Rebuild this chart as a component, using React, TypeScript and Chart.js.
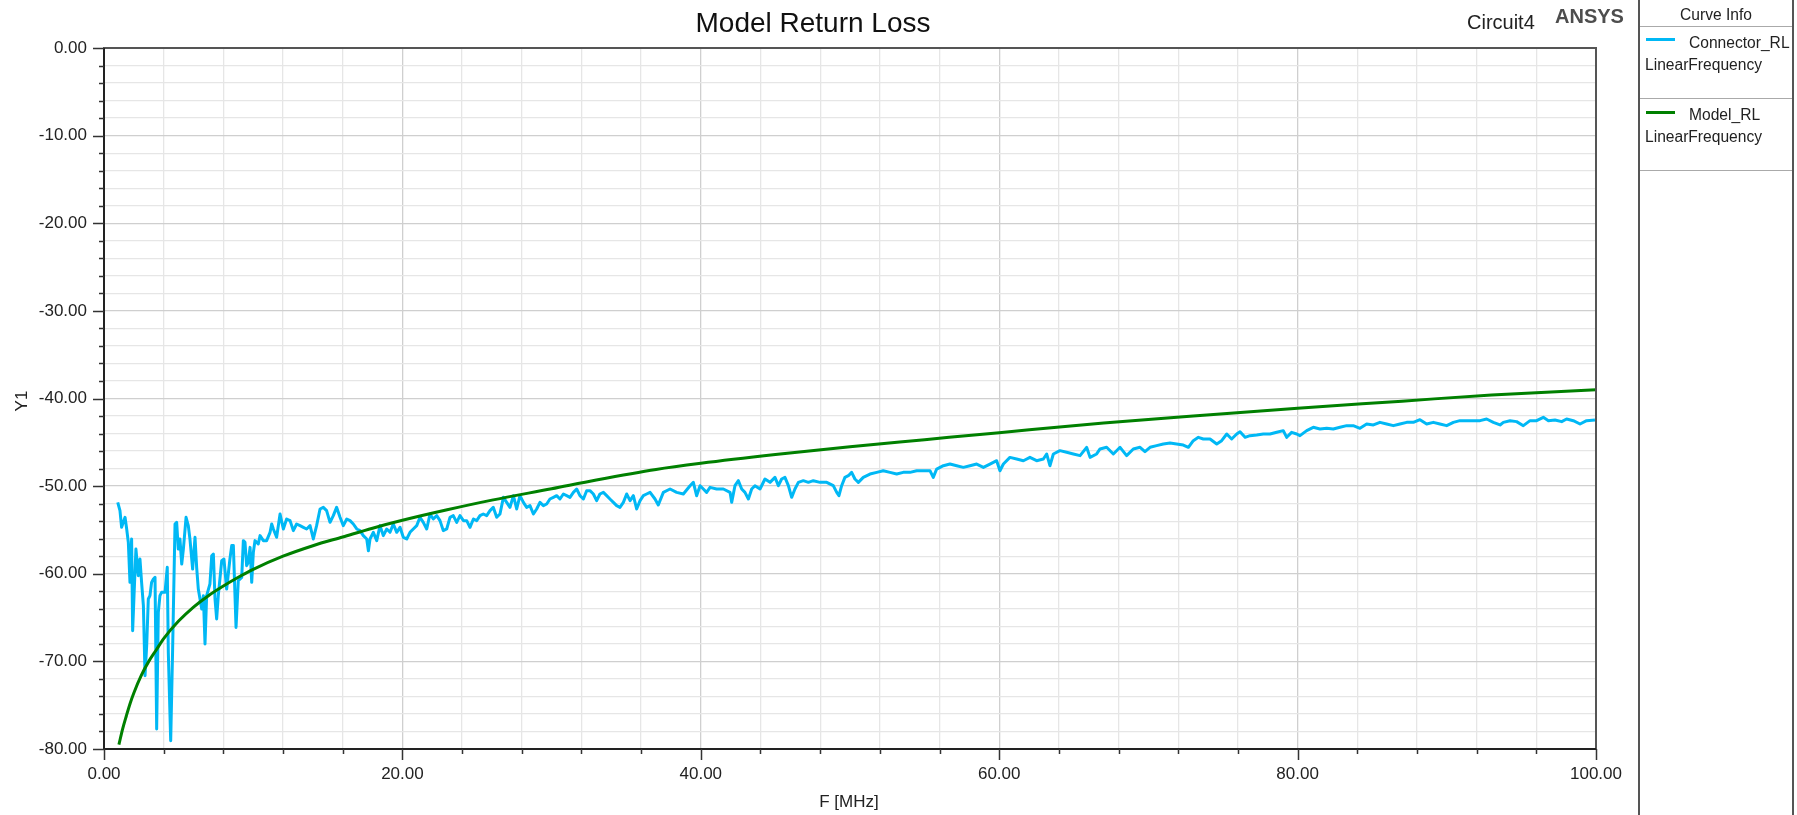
import React, { useEffect, useRef } from "react";
import { Chart, registerables } from "chart.js";

Chart.register(...registerables);

// Connector_RL (measured) — frequency in MHz, return loss in dB
const connF = [
  0.92, 1.07, 1.18, 1.41, 1.52, 1.63, 1.74, 1.85, 1.92, 2.03, 2.14, 2.30, 2.41, 2.52, 2.64, 2.75, 2.86, 2.97, 3.08, 3.19,
  3.31, 3.42, 3.53, 3.64, 3.75, 3.86, 4.09, 4.24, 4.31, 4.47, 4.60, 4.76, 4.87, 4.98, 5.09, 5.21, 5.32, 5.50, 5.65, 5.76,
  5.94, 6.10, 6.21, 6.32, 6.55, 6.66, 6.77, 6.88, 7.10, 7.22, 7.33, 7.44, 7.55, 7.66, 7.89, 8.04, 8.22, 8.44, 8.56, 8.67,
  8.85, 9.00, 9.23, 9.34, 9.45, 9.56, 9.67, 9.79, 9.90, 10.01, 10.12, 10.34, 10.46, 10.68, 10.90, 11.13, 11.24, 11.35, 11.57, 11.80,
  12.02, 12.24, 12.47, 12.69, 12.91, 13.14, 13.36, 13.58, 13.81, 14.03, 14.25, 14.48, 14.70, 14.92, 15.15, 15.37, 15.59, 15.82, 16.04, 16.27,
  16.49, 16.71, 16.94, 17.16, 17.38, 17.61, 17.72, 17.83, 18.05, 18.28, 18.50, 18.72, 18.95, 19.17, 19.39, 19.62, 19.84, 20.06, 20.29, 20.51,
  20.73, 20.96, 21.18, 21.40, 21.63, 21.85, 22.07, 22.30, 22.52, 22.74, 22.97, 23.19, 23.41, 23.64, 23.86, 24.09, 24.31, 24.53, 24.76, 24.98,
  25.20, 25.42, 25.65, 25.87, 26.09, 26.32, 26.54, 26.77, 26.99, 27.21, 27.44, 27.66, 27.88, 28.11, 28.33, 28.55, 28.78, 29.00, 29.22, 29.45,
  29.67, 29.89, 30.12, 30.34, 30.56, 30.79, 31.01, 31.23, 31.46, 31.68, 31.90, 32.13, 32.35, 32.57, 32.80, 33.02, 33.24, 33.47, 33.69, 33.91,
  34.14, 34.36, 34.58, 34.81, 35.03, 35.26, 35.48, 35.70, 35.93, 36.15, 36.37, 36.60, 36.93, 37.15, 37.49, 37.94, 38.38, 38.83, 39.28, 39.50,
  39.72, 39.95, 40.17, 40.39, 40.62, 41.06, 41.51, 41.96, 42.07, 42.29, 42.52, 42.74, 42.96, 43.19, 43.41, 43.63, 43.97, 44.30, 44.64, 44.97,
  45.20, 45.42, 45.64, 45.87, 46.09, 46.31, 46.54, 46.87, 47.21, 47.54, 47.99, 48.44, 48.88, 49.11, 49.26, 49.44, 49.66, 49.89, 50.11, 50.33,
  50.56, 50.89, 51.34, 51.79, 52.23, 52.68, 53.13, 53.57, 54.02, 54.47, 54.92, 55.36, 55.58, 55.81, 56.26, 56.70, 57.15, 57.60, 58.04, 58.49,
  58.94, 59.38, 59.83, 60.05, 60.28, 60.72, 61.17, 61.62, 62.06, 62.51, 62.96, 63.18, 63.40, 63.63, 64.07, 64.52, 64.97, 65.42, 65.86, 66.09,
  66.53, 66.76, 67.20, 67.65, 68.10, 68.54, 68.99, 69.44, 69.77, 70.11, 70.55, 71.00, 71.45, 71.89, 72.34, 72.68, 73.01, 73.35, 73.68, 74.13,
  74.58, 74.91, 75.25, 75.58, 75.92, 76.14, 76.48, 76.81, 77.26, 77.70, 78.15, 78.60, 79.04, 79.27, 79.60, 79.94, 80.16, 80.61, 81.05, 81.50,
  81.95, 82.39, 82.84, 83.29, 83.73, 84.18, 84.63, 85.08, 85.52, 85.97, 86.42, 86.86, 87.31, 87.76, 88.20, 88.65, 89.10, 89.54, 89.99, 90.44,
  90.88, 91.33, 91.78, 92.23, 92.67, 93.12, 93.57, 93.79, 94.24, 94.68, 95.13, 95.58, 96.02, 96.47, 96.81, 97.25, 97.70, 98.03, 98.48, 98.93,
  99.37, 99.93,
];
const connDb = [
  -51.85, -52.80, -54.70, -53.56, -54.89, -56.41, -60.98, -56.03, -66.50, -61.74, -57.18, -60.22, -58.32, -60.98, -63.64, -71.63, -68.21, -62.88, -62.50, -60.98,
  -60.60, -60.41, -77.72, -64.40, -62.50, -62.12, -62.12, -59.27, -68.97, -79.05, -68.59, -54.32, -54.13, -57.18, -56.03, -58.89, -57.18, -53.56, -54.51, -56.03,
  -59.46, -55.84, -59.27, -61.74, -64.02, -62.50, -68.02, -62.50, -61.17, -57.94, -57.75, -62.88, -65.16, -62.50, -58.51, -58.32, -61.74, -58.32, -56.79, -56.79,
  -66.12, -60.79, -60.41, -56.22, -56.41, -59.08, -58.70, -56.99, -60.98, -57.56, -56.22, -56.60, -55.65, -56.22, -56.22, -55.27, -54.32, -54.89, -55.84, -53.18,
  -54.89, -53.75, -53.94, -55.08, -54.32, -54.51, -54.70, -54.89, -54.51, -56.03, -54.51, -52.61, -52.42, -52.80, -54.13, -53.37, -52.42, -53.56, -54.51, -53.75,
  -53.94, -54.32, -54.89, -55.08, -55.65, -56.03, -57.37, -56.03, -55.27, -56.22, -54.51, -55.65, -54.89, -55.27, -54.32, -55.27, -54.70, -55.84, -56.03, -55.27,
  -54.89, -54.51, -53.56, -54.13, -54.89, -53.18, -53.75, -53.37, -53.94, -55.08, -54.89, -53.56, -53.37, -54.13, -53.37, -53.94, -53.94, -54.70, -53.75, -53.94,
  -53.37, -53.18, -53.37, -52.80, -52.42, -53.56, -53.18, -51.28, -51.85, -52.42, -51.09, -52.61, -51.09, -51.85, -52.42, -52.23, -53.18, -52.61, -51.85, -52.23,
  -52.04, -51.47, -51.28, -51.09, -51.47, -50.90, -51.09, -51.28, -50.71, -50.33, -51.09, -51.47, -50.52, -50.52, -50.90, -51.66, -50.90, -50.71, -51.09, -51.47,
  -51.85, -52.23, -52.42, -51.85, -50.90, -51.66, -51.09, -52.61, -51.66, -51.09, -50.90, -50.71, -51.47, -52.15, -50.71, -50.33, -50.71, -50.90, -49.95, -49.57,
  -51.09, -49.95, -50.33, -50.71, -50.14, -50.33, -50.33, -50.71, -51.85, -49.95, -49.38, -50.33, -50.71, -51.47, -50.33, -49.95, -50.33, -49.19, -49.57, -49.00,
  -49.95, -49.19, -49.00, -49.95, -51.28, -50.33, -49.57, -49.38, -49.57, -49.38, -49.57, -49.57, -49.95, -50.71, -51.09, -49.95, -49.00, -48.81, -48.43, -49.19,
  -49.57, -49.00, -48.62, -48.43, -48.24, -48.43, -48.62, -48.43, -48.43, -48.24, -48.24, -48.24, -49.00, -48.05, -47.67, -47.48, -47.67, -47.86, -47.67, -47.48,
  -47.86, -47.48, -47.10, -48.24, -47.48, -46.72, -46.90, -47.10, -46.72, -47.10, -46.90, -46.33, -47.67, -46.33, -45.95, -46.14, -46.33, -46.52, -45.57, -46.72,
  -46.33, -45.76, -45.57, -46.33, -45.57, -46.52, -45.76, -45.57, -46.07, -45.57, -45.38, -45.19, -45.08, -45.19, -45.31, -45.57, -44.81, -44.43, -44.62, -44.62,
  -45.19, -44.81, -44.05, -44.62, -44.05, -43.79, -44.43, -44.24, -44.17, -44.05, -44.05, -43.86, -43.67, -44.43, -43.86, -44.05, -44.24, -43.67, -43.29, -43.48,
  -43.40, -43.48, -43.29, -43.10, -43.10, -43.40, -42.91, -43.02, -42.72, -42.91, -43.10, -42.91, -42.72, -42.72, -42.42, -42.91, -42.72, -42.91, -43.10, -42.72,
  -42.53, -42.53, -42.53, -42.53, -42.34, -42.72, -43.02, -42.72, -42.53, -42.64, -43.10, -42.53, -42.53, -42.15, -42.53, -42.45, -42.64, -42.34, -42.53, -42.91,
  -42.53, -42.45,
];

// Model_RL — frequency in MHz, return loss in dB
const modelF = [1, 1.25, 1.5, 1.75, 2, 2.5, 3, 3.5, 4, 5, 6, 7, 8, 9, 10, 12, 14, 16, 18, 20, 23, 26, 30, 33, 37, 40, 45, 50, 55, 60, 67, 73, 80, 87, 93, 100];
const modelDb = [-79.5, -77.7, -76.2, -74.8, -73.6, -71.6, -70.0, -68.7, -67.4, -65.4, -63.8, -62.5, -61.4, -60.4, -59.5, -58.0, -56.8, -55.8, -54.8, -53.9, -52.7, -51.6, -50.3, -49.3, -48.1, -47.4, -46.4, -45.5, -44.7, -43.9, -42.8, -42.0, -41.1, -40.3, -39.6, -39.0];

const xTickValues = [0, 20, 40, 60, 80, 100];
const yTickValues = [0, -10, -20, -30, -40, -50, -60, -70, -80];

const FONT = '"Liberation Sans", Arial, sans-serif';
const CYAN = "#00b8f5";
const GREEN = "#008000";

const decorPlugin = {
  id: "decor",
  afterDraw(chart: any) {
    const { ctx, chartArea } = chart;
    const xs = chart.scales.x;
    const ys = chart.scales.y;
    ctx.save();
    // frame
    ctx.strokeStyle = "#555";
    ctx.lineWidth = 2;
    ctx.strokeRect(chartArea.left, chartArea.top, chartArea.right - chartArea.left, chartArea.bottom - chartArea.top);
    ctx.strokeStyle = "#222";
    ctx.beginPath();
    ctx.moveTo(chartArea.left, chartArea.top);
    ctx.lineTo(chartArea.left, chartArea.bottom);
    ctx.lineTo(chartArea.right, chartArea.bottom);
    ctx.stroke();
    // tick marks
    ctx.lineWidth = 1.5;
    ctx.strokeStyle = "#333";
    ctx.beginPath();
    for (let v = -80; v <= 0; v += 2) {
      const y = Math.round(ys.getPixelForValue(v)) + 0.5;
      const len = v % 10 === 0 ? 11 : 5;
      ctx.moveTo(chartArea.left - len, y);
      ctx.lineTo(chartArea.left, y);
    }
    for (let v = 0; v <= 100; v += 4) {
      const x = Math.round(xs.getPixelForValue(v)) + 0.5;
      const len = v % 20 === 0 ? 11 : 5;
      ctx.moveTo(x, chartArea.bottom);
      ctx.lineTo(x, chartArea.bottom + len);
    }
    ctx.stroke();
    // texts
    ctx.fillStyle = "#111";
    ctx.textBaseline = "middle";
    ctx.textAlign = "center";
    ctx.font = `28px ${FONT}`;
    ctx.fillText("Model Return Loss", 813, 24);
    ctx.textAlign = "left";
    ctx.font = `20px ${FONT}`;
    ctx.fillStyle = "#222";
    ctx.fillText("Circuit4", 1467, 23.5);
    ctx.font = `bold 20px ${FONT}`;
    ctx.fillStyle = "#4d4d4d";
    ctx.fillText("ANSYS", 1555, 17.5);
    ctx.fillStyle = "#222";
    ctx.font = `17px ${FONT}`;
    ctx.textAlign = "center";
    ctx.fillText("F [MHz]", 849, 802);
    ctx.translate(22, 401);
    ctx.rotate(-Math.PI / 2);
    ctx.fillText("Y1", 0, 0);
    ctx.restore();
  },
};

export default function App() {
  const canvasRef = useRef<HTMLCanvasElement | null>(null);

  useEffect(() => {
    if (!canvasRef.current) return;
    const chart = new Chart(canvasRef.current, {
      type: "line",
      data: {
        datasets: [
          {
            label: "Connector_RL",
            data: connF.map((f, i) => ({ x: f, y: connDb[i] })),
            borderColor: CYAN,
            borderWidth: 3,
            pointRadius: 0,
            tension: 0,
            borderJoinStyle: "round",
            order: 1,
          },
          {
            label: "Model_RL",
            data: modelF.map((f, i) => ({ x: f, y: modelDb[i] })),
            borderColor: GREEN,
            borderWidth: 3,
            pointRadius: 0,
            cubicInterpolationMode: "monotone",
            order: 0,
          },
        ],
      },
      options: {
        responsive: false,
        animation: false,
        events: [],
        layout: { padding: { left: 0, right: 43, top: 48, bottom: 0 } },
        plugins: { legend: { display: false }, tooltip: { enabled: false }, title: { display: false } },
        scales: {
          x: {
            type: "linear",
            min: 0,
            max: 100,
            afterFit: (s: any) => {
              s.height = 66;
            },
            afterBuildTicks: (s: any) => {
              const t = [];
              for (let v = 0; v <= 100; v += 4) t.push({ value: v });
              s.ticks = t;
            },
            ticks: {
              autoSkip: false,
              maxRotation: 0,
              padding: 15,
              color: "#222",
              font: { family: FONT, size: 17 },
              callback: (v: any) => (xTickValues.includes(Number(v)) ? Number(v).toFixed(2) : ""),
            },
            grid: {
              drawTicks: false,
              color: (c: any) => (c.tick && c.tick.value % 20 === 0 ? "#cfcfcf" : "#e6e6e6"),
              lineWidth: 1.3,
            },
            border: { display: false },
          },
          y: {
            type: "linear",
            min: -80,
            max: 0,
            afterFit: (s: any) => {
              s.width = 104;
            },
            afterBuildTicks: (s: any) => {
              const t = [];
              for (let v = -80; v <= 0; v += 2) t.push({ value: v });
              s.ticks = t;
            },
            ticks: {
              autoSkip: false,
              padding: 17,
              color: "#222",
              font: { family: FONT, size: 17 },
              callback: (v: any) => (yTickValues.includes(Number(v)) ? Number(v).toFixed(2) : ""),
            },
            grid: {
              drawTicks: false,
              color: (c: any) => (c.tick && c.tick.value % 10 === 0 ? "#cfcfcf" : "#e6e6e6"),
              lineWidth: 1.3,
            },
            border: { display: false },
          },
        },
      },
      plugins: [decorPlugin],
    });
    return () => chart.destroy();
  }, []);

  const txt: React.CSSProperties = {
    position: "absolute",
    fontFamily: FONT,
    fontSize: 15.6,
    color: "#222",
    whiteSpace: "nowrap",
    lineHeight: "18px",
  };

  return (
    <div style={{ position: "absolute", left: 0, top: 0, width: 1797, height: 815, background: "#fff", overflow: "hidden" }}>
      <canvas ref={canvasRef} width={1639} height={815} style={{ position: "absolute", left: 0, top: 0 }} />
      <div
        style={{
          position: "absolute",
          left: 1638,
          top: 0,
          width: 156,
          height: 815,
          borderLeft: "2px solid #555",
          borderRight: "2px solid #555",
          boxSizing: "border-box",
        }}
      >
        <div style={{ position: "absolute", left: 0, top: 26, width: "100%", height: 0, borderTop: "1px solid #aaa" }} />
        <div style={{ position: "absolute", left: 0, top: 98, width: "100%", height: 0, borderTop: "1px solid #aaa" }} />
        <div style={{ position: "absolute", left: 0, top: 170, width: "100%", height: 0, borderTop: "1px solid #aaa" }} />
        <div style={{ ...txt, left: 0, width: "100%", textAlign: "center", top: 6 }}>Curve Info</div>
        <div style={{ position: "absolute", left: 6, top: 38, width: 29, height: 3, background: CYAN }} />
        <div style={{ ...txt, left: 49, top: 34 }}>Connector_RL</div>
        <div style={{ ...txt, left: 5, top: 56 }}>LinearFrequency</div>
        <div style={{ position: "absolute", left: 6, top: 111, width: 29, height: 3, background: GREEN }} />
        <div style={{ ...txt, left: 49, top: 106 }}>Model_RL</div>
        <div style={{ ...txt, left: 5, top: 128 }}>LinearFrequency</div>
      </div>
    </div>
  );
}
